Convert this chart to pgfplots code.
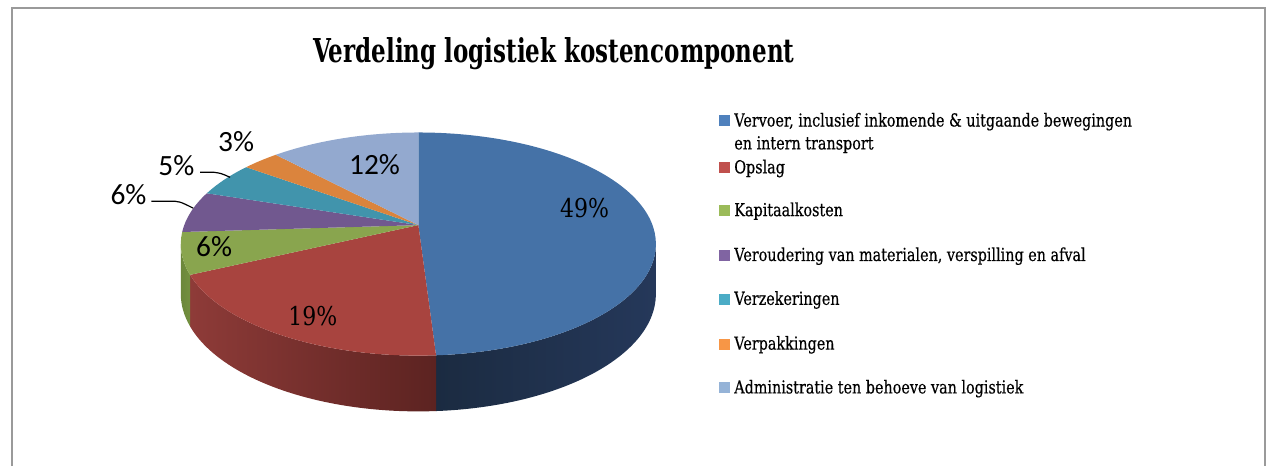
\documentclass[border=0pt]{standalone}
\usepackage{pgfplots}
\pgfplotsset{compat=1.18}
\usepackage{pgfplotstable}
\usepackage{fontspec}
\setmainfont{Liberation Serif}
\newfontfamily\titlefont[FakeStretch=0.7]{DejaVu Serif}
\newfontfamily\legfont[FakeStretch=0.8,FakeBold=0.4]{DejaVu Serif}
\newfontfamily\numfont[FakeStretch=0.85]{DejaVu Serif}
\newfontfamily\lblfont{Carlito}
\definecolor{cA}{HTML}{4572A7}
\definecolor{cB}{HTML}{A8443F}
\definecolor{cC}{HTML}{89A54E}
\definecolor{cD}{HTML}{71588F}
\definecolor{cE}{HTML}{4194AC}
\definecolor{cF}{HTML}{DB843D}
\definecolor{cG}{HTML}{93A9CF}
\definecolor{lA}{HTML}{4F81BD}
\definecolor{lB}{HTML}{C0504D}
\definecolor{lC}{HTML}{9BBB59}
\definecolor{lD}{HTML}{8064A2}
\definecolor{lE}{HTML}{4BACC6}
\definecolor{lF}{HTML}{F79646}
\definecolor{lG}{HTML}{95B3D7}
\definecolor{sA1}{HTML}{1B2B41}
\definecolor{sA2}{HTML}{25385A}
\definecolor{sB1}{HTML}{8E3B38}
\definecolor{sB2}{HTML}{5C2321}
\definecolor{sC1}{HTML}{6C873B}
\definecolor{sC2}{HTML}{73903F}
\definecolor{frame}{HTML}{9A9A9A}
\newcommand\PA[1]{\csname pieang#1\endcsname}
\newcommand\pietop[3]{%
  \fill[#3] (axis cs:415,226) -- (axis cs:{415+238.5*cos(\PA{#1})},{245-112*sin(\PA{#1})})
    arc[start angle=\PA{#1}, end angle=\PA{#2}, x radius=238.5pt, y radius=112pt] -- cycle;}
\newcommand\pieside[4]{%
  \shade[left color=#3,right color=#4] (axis cs:{415+238.5*cos(#1)},{245-112*sin(#1)})
    arc[start angle=#1, end angle=#2, x radius=238.5pt, y radius=112pt]
    -- (axis cs:{415+238.5*cos(#2)},{295-118*sin(#2)})
    arc[start angle=#2, end angle=#1, x radius=238.5pt, y radius=118pt] -- cycle;}
\begin{document}
\pgfplotstableread{
slice value
0 49
1 19
2 6
3 6
4 5
5 3
6 12
}\piedata
% perspective projection of the pie's circle onto the drawn ellipse
\def\cum{0}
\pgfplotsforeachungrouped \i in {0,...,7}{%
  \pgfmathsetmacro\t{90-3.6*\cum}%
  \pgfmathsetmacro\uu{235*cos(\t)/(1+0.1697*sin(\t))}%
  \pgfmathsetmacro\vv{108.8*sin(\t)/(1+0.1697*sin(\t))}%
  \pgfmathsetmacro\ph{atan2((\vv+19)/112,\uu/238.5)}%
  \pgfmathsetmacro\ph{\t+mod(\ph-\t+540,360)-180}%
  \expandafter\xdef\csname pieang\i\endcsname{\ph}%
  \ifnum\i<7
    \pgfplotstablegetelem{\i}{value}\of\piedata
    \pgfmathsetmacro\cum{\cum+\pgfplotsretval}%
  \fi
}
\begin{tikzpicture}
\begin{axis}[x=1pt,y=1pt,xmin=0,xmax=1266,ymin=0,ymax=468,y dir=reverse,
  hide axis,clip=false]
\path (axis cs:0,0) rectangle (axis cs:1266,468);
\draw[frame,line width=2pt] (axis cs:7,468) -- (axis cs:7,8) -- (axis cs:1265,8) -- (axis cs:1265,468);
% sides
\pieside{0}{\PA{1}}{sA1}{sA2}
\pieside{\PA{1}}{\PA{2}}{sB1}{sB2}
\pieside{\PA{2}}{-180}{sC1}{sC2}
% tops
\pietop{0}{1}{cA}
\pietop{1}{2}{cB}
\pietop{2}{3}{cC}
\pietop{3}{4}{cD}
\pietop{4}{5}{cE}
\pietop{5}{6}{cF}
\pietop{6}{7}{cG}
% data labels
\node[font=\numfont\fontsize{26}{30}\selectfont] at (axis cs:582,209) {49\%};
\node[font=\numfont\fontsize{26}{30}\selectfont] at (axis cs:309,317) {19\%};
\node[font=\lblfont\fontsize{29.5}{32}\selectfont] at (axis cs:210,248) {6\%};
\node[font=\lblfont\fontsize{29.5}{32}\selectfont] at (axis cs:124,195) {6\%};
\node[font=\lblfont\fontsize{29.5}{32}\selectfont] at (axis cs:172,166) {5\%};
\node[font=\lblfont\fontsize{29.5}{32}\selectfont] at (axis cs:232,142) {3\%};
\node[font=\lblfont\fontsize{29.5}{32}\selectfont] at (axis cs:371,165) {12\%};
\draw[black,line width=1.2pt] (axis cs:147,202) -- (axis cs:165,202) .. controls (axis cs:175,202) .. (axis cs:189,209);
\draw[black,line width=1.2pt] (axis cs:196,173) -- (axis cs:210,173) .. controls (axis cs:217,174) .. (axis cs:226,178);
% title
\node[anchor=base,font=\titlefont\bfseries\fontsize{33}{38}\selectfont] at (axis cs:551,63) {Verdeling logistiek kostencomponent};
% legend
\fill[lA] (axis cs:717,115) rectangle (axis cs:728,126);
\fill[lB] (axis cs:717,163) rectangle (axis cs:728,174);
\fill[lC] (axis cs:717,206) rectangle (axis cs:728,217);
\fill[lD] (axis cs:717,251) rectangle (axis cs:728,262);
\fill[lE] (axis cs:717,295) rectangle (axis cs:728,306);
\fill[lF] (axis cs:717,340) rectangle (axis cs:728,351);
\fill[lG] (axis cs:717,384) rectangle (axis cs:728,395);
\begin{scope}[every node/.style={anchor=base west,inner sep=0pt,font=\legfont\fontsize{18}{22}\selectfont}]
\node at (axis cs:732,127) {Vervoer, inclusief inkomende \& uitgaande bewegingen};
\node at (axis cs:732,150) {en intern transport};
\node at (axis cs:732,174) {Opslag};
\node at (axis cs:732,217) {Kapitaalkosten};
\node at (axis cs:732,262) {Veroudering van materialen, verspilling en afval};
\node at (axis cs:732,306) {Verzekeringen};
\node at (axis cs:732,351) {Verpakkingen};
\node at (axis cs:732,395) {Administratie ten behoeve van logistiek};
\end{scope}
\end{axis}
\end{tikzpicture}
\end{document}
